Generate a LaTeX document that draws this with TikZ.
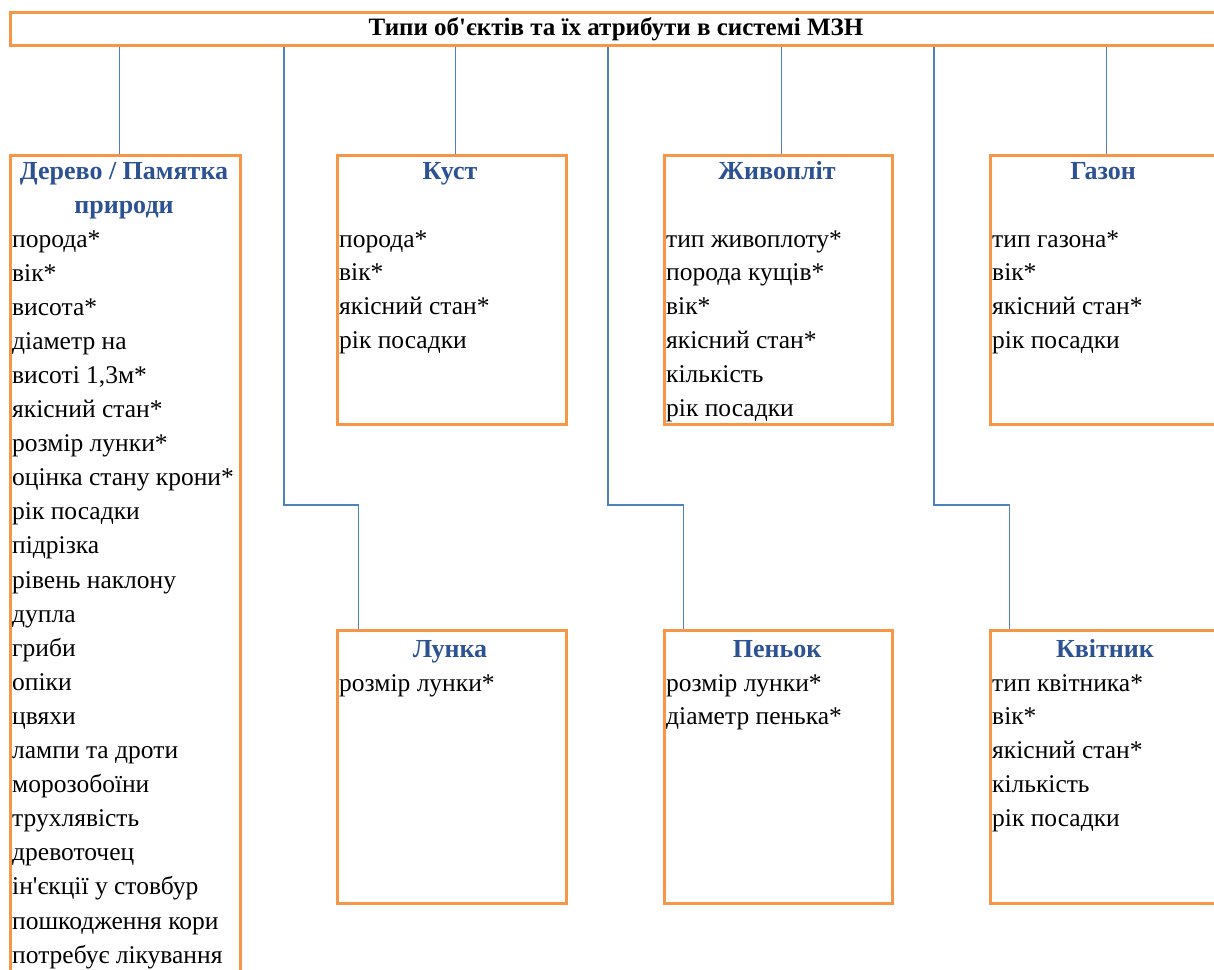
\documentclass[tikz,border=0pt]{standalone}
\usepackage{fontspec}
\setmainfont{Liberation Serif}[Ligatures=TeXOff]
\definecolor{boxorange}{RGB}{247,150,70}
\definecolor{connblue}{RGB}{79,129,189}
\definecolor{headblue}{RGB}{44,82,148}
\newcommand{\bodyfnt}{\fontsize{25.5}{34}\selectfont}
\newcommand{\headfnt}{\bfseries\fontsize{26}{34}\selectfont}
\tikzset{
  obox/.style={draw=boxorange, line width=3pt, rectangle, inner sep=0, anchor=north west},
  conn/.style={draw=connblue, line width=1.3pt},
  item/.style={anchor=base west, inner sep=0, font=\bodyfnt, text=black},
  head/.style={anchor=base, inner sep=0, font=\headfnt, text=headblue},
}
\begin{document}
\begin{tikzpicture}[x=1pt,y=-1pt]
\useasboundingbox (0,0) rectangle (1214,969);
\clip (0,0) rectangle (1214,969);
% title
\node[obox, minimum width=1211pt, minimum height=33pt, font=\bfseries\fontsize{25}{30}\selectfont] (title) at (9,11) {Типи об'єктів та їх атрибути в системі МЗН};
% boxes
\node[obox, minimum width=230pt, minimum height=900pt] (der) at (9,154) {};
\node[obox, minimum width=229pt, minimum height=269pt] (kus) at (336,154) {};
\node[obox, minimum width=228pt, minimum height=269pt] (ziv) at (663,154) {};
\node[obox, minimum width=229pt, minimum height=269pt] (gaz) at (989,154) {};
\node[obox, minimum width=229pt, minimum height=273pt] (lun) at (336,629) {};
\node[obox, minimum width=228pt, minimum height=273pt] (pen) at (663,629) {};
\node[obox, minimum width=232pt, minimum height=273pt] (kvi) at (989,629) {};
% headers
\node[head] (hder1) at (124,179) {Дерево / Памятка};
\node[head] (hder2) at (124,213) {природи};
\node[head] (hkus) at (450,179) {Куст};
\node[head] (hziv) at (777,179) {Живопліт};
\node[head] (hgaz) at (1103,179) {Газон};
\node[head] (hlun) at (450,657) {Лунка};
\node[head] (hpen) at (777,657) {Пеньок};
\node[head] (hkvi) at (1105,657) {Квітник};
% items
\foreach \t [count=\i] in {порода*, вік*, висота*, діаметр на, {висоті 1,3м*}, якісний стан*, розмір лунки*, оцінка стану крони*, рік посадки, підрізка, рівень наклону, дупла, гриби, опіки, цвяхи, лампи та дроти, морозобоїни, трухлявість, древоточец, ін'єкції у стовбур, пошкодження кори, потребує лікування}
  \node[item] (der\i) at (12,{247+34.1*(\i-1)}) {\t};
\foreach \t [count=\i] in {порода*, вік*, якісний стан*, рік посадки}
  \node[item] (kus\i) at (339,{247+33.8*(\i-1)}) {\t};
\foreach \t [count=\i] in {тип живоплоту*, порода кущів*, вік*, якісний стан*, кількість, рік посадки}
  \node[item] (ziv\i) at (666,{247+33.8*(\i-1)}) {\t};
\foreach \t [count=\i] in {тип газона*, вік*, якісний стан*, рік посадки}
  \node[item] (gaz\i) at (992,{247+33.8*(\i-1)}) {\t};
\foreach \t [count=\i] in {розмір лунки*}
  \node[item] (lun\i) at (339,{691+33.8*(\i-1)}) {\t};
\foreach \t [count=\i] in {розмір лунки*, діаметр пенька*}
  \node[item] (pen\i) at (666,{691+33.8*(\i-1)}) {\t};
\foreach \t [count=\i] in {тип квітника*, вік*, якісний стан*, кількість, рік посадки}
  \node[item] (kvi\i) at (992,{691+33.8*(\i-1)}) {\t};
% connectors
\coordinate (cder) at ([xshift=-6pt]der.north);
\coordinate (ckus) at ([xshift=3.5pt]kus.north);
\coordinate (cziv) at ([xshift=3pt]ziv.north);
\coordinate (cgaz) at ([xshift=1.5pt]gaz.north);
\coordinate (clun) at ([xshift=-93.5pt]lun.north);
\coordinate (cpen) at ([xshift=-95pt]pen.north);
\coordinate (ckvi) at ([xshift=-97pt]kvi.north);
\coordinate (elun) at (284,505);
\coordinate (epen) at (608,505);
\coordinate (ekvi) at (934,505);
\draw[conn] (title.south -| cder) -- (cder);
\draw[conn] (title.south -| ckus) -- (ckus);
\draw[conn] (title.south -| cziv) -- (cziv);
\draw[conn] (title.south -| cgaz) -- (cgaz);
\draw[conn] (title.south -| elun) -- (elun) -| (clun);
\draw[conn] (title.south -| epen) -- (epen) -| (cpen);
\draw[conn] (title.south -| ekvi) -- (ekvi) -| (ckvi);
\end{tikzpicture}
\end{document}
